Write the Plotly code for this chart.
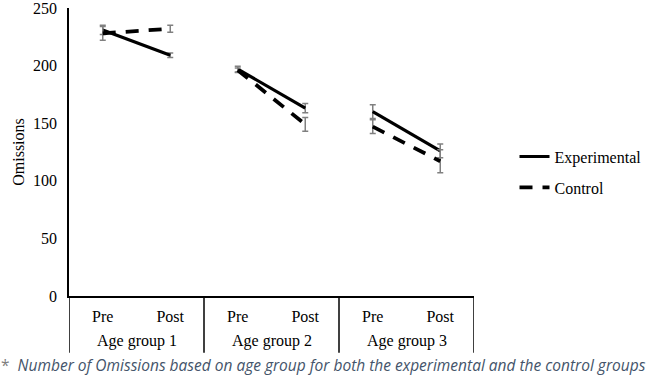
import plotly.graph_objects as go

groups = ["Age group 1", "Age group 2", "Age group 3"]
phases = ["Pre", "Post"]
exp_vals = [231, 209, 197, 163, 160, 126]
exp_err = [4, 2, 2.5, 4, 6, 6]
ctl_vals = [228, 232, 196, 149, 147, 117]
ctl_err = [6, 3, 2, 6, 6, 10]

serif = "Liberation Serif"
fs = 16
fig = go.Figure()

n_ph = len(phases)
positions = list(range(len(groups) * n_ph))
tick_text = [p for g in groups for p in phases]

series = [
    ("Experimental", exp_vals, exp_err, "solid", 3.2),
    ("Control", ctl_vals, ctl_err, "13px,10px", 3.8),
]
for name, vals, errs, dash, w in series:
    for gi, g in enumerate(groups):
        idx = slice(n_ph * gi, n_ph * gi + n_ph)
        fig.add_trace(go.Scatter(
            x=positions[idx],
            y=vals[idx],
            mode="lines",
            name=name,
            legendgroup=name,
            showlegend=(gi == 0),
            line=dict(color="black", width=w, dash=dash),
            error_y=dict(type="data", array=errs[idx], visible=True,
                         color="#808080", thickness=1.5, width=3),
        ))

# group labels and dividers of the two-level category axis
shapes = []
annotations = []
for gi, g in enumerate(groups):
    center = gi * n_ph + (n_ph - 1) / 2
    annotations.append(dict(
        xref="x", yref="paper", x=center, y=-0.157, text=g, showarrow=False,
        xanchor="center", yanchor="middle",
        font=dict(family=serif, size=fs, color="black")))
for b in range(len(groups) + 1):
    xb = b * n_ph - 0.5
    shapes.append(dict(type="line", xref="x", yref="paper", x0=xb, x1=xb,
                       y0=0, y1=-0.197, line=dict(color="black", width=1.5)))

annotations.append(dict(
    xref="paper", yref="paper", x=-0.172, y=-0.24,
    xanchor="left", yanchor="middle", showarrow=False,
    text="<span style='color:#7f7f7f'>*</span>  <i>Number of Omissions based on age group for both the experimental and the control groups</i>",
    font=dict(family="Open Sans", size=15.5, color="#44546A"),
))

fig.update_layout(
    width=646, height=381,
    margin=dict(l=69, r=172, t=8, b=85, autoexpand=False),
    paper_bgcolor="white", plot_bgcolor="white",
    font=dict(family=serif, size=fs, color="black"),
    showlegend=True,
    legend=dict(x=1.10, y=0.543, xanchor="left", yanchor="top",
                font=dict(family=serif, size=fs, color="black"),
                tracegroupgap=7, bgcolor="rgba(0,0,0,0)"),
    xaxis=dict(
        range=[-0.5, positions[-1] + 0.5],
        tickmode="array", tickvals=positions, ticktext=tick_text,
        showline=True, linecolor="black", linewidth=1.5,
        showgrid=False, zeroline=False, ticks="",
        ticklabelstandoff=5, automargin=False,
        tickfont=dict(family=serif, size=fs, color="black"),
    ),
    yaxis=dict(
        range=[0, 250], dtick=50,
        showline=True, linecolor="black", linewidth=1.5,
        showgrid=False, zeroline=False, ticks="",
        ticklabelstandoff=7, automargin=False, ticklabeloverflow="allow",
        tickfont=dict(family=serif, size=fs, color="black"),
        title=dict(text="Omissions", font=dict(family=serif, size=fs, color="black"),
                   standoff=4),
    ),
    shapes=shapes,
    annotations=annotations,
)

fig.write_html("out.html", config={"displayModeBar": False},
               post_script="document.body.style.margin='0';")
